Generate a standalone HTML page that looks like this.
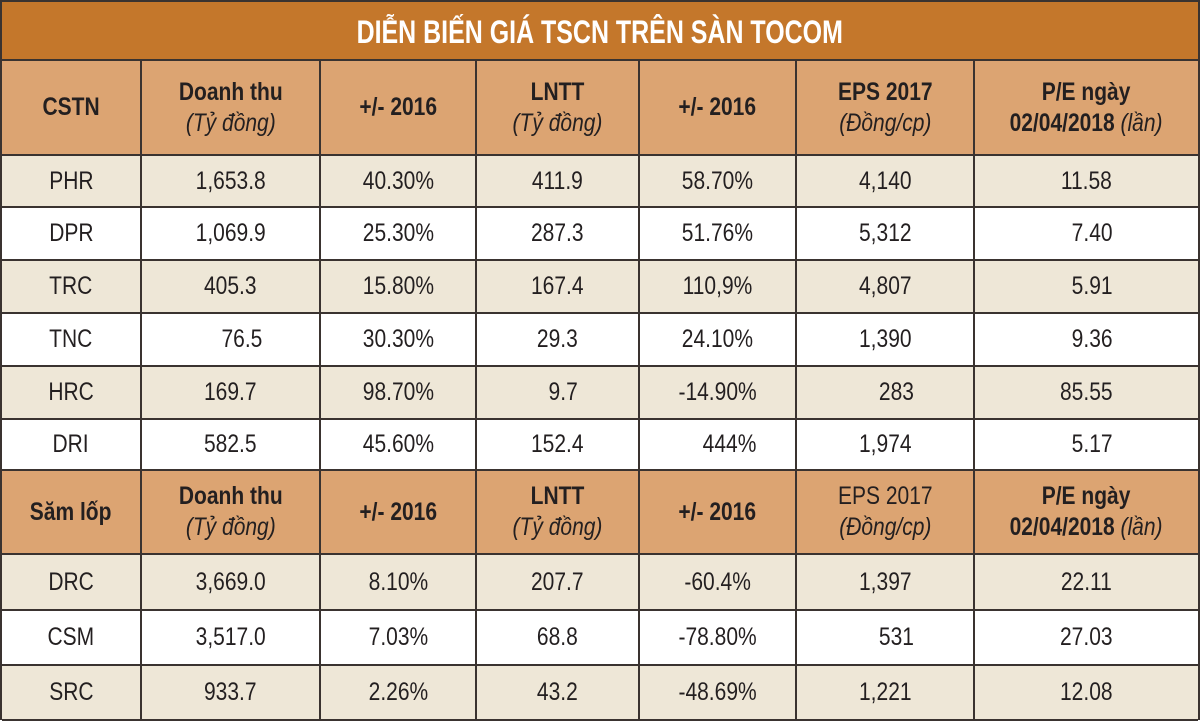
<!DOCTYPE html>
<html><head><meta charset="utf-8">
<style>
html,body{margin:0;padding:0;background:#fff;}
body{width:1200px;height:721px;overflow:hidden;font-family:"Liberation Sans",sans-serif;color:#231f20;}
#wrap{position:absolute;left:0;top:0;width:1196px;height:716px;border:2px solid #3a3330;}
#title{height:57px;background:#c4772b;color:#fff;font-weight:bold;font-size:32px;text-align:center;line-height:60px;border-bottom:2px solid #3a3330;}
#title span{display:inline-block;transform:scaleX(0.78);}
table{border-collapse:collapse;width:1196px;table-layout:fixed;}
td{border:2px solid #3a3330;text-align:center;font-size:25px;padding:0;white-space:nowrap;}
td s{text-decoration:none;display:inline-block;transform:scaleX(0.84);}
tr.h td{background:#dca472;font-weight:bold;font-size:25px;line-height:31px;}
tr.h td i{font-weight:normal;}
tr.l td{background:#eee7d7;}
tr.w td{background:#fff;}
tr:first-child td{border-top:none;}
td:first-child{border-left:none;}
td:last-child{border-right:none;}
</style></head><body>
<div id="wrap">
<div id="title"><span>DIỄN BIẾN GIÁ TSCN TRÊN SÀN TOCOM</span></div>
<table>
<colgroup><col style="width:139px"><col style="width:179px"><col style="width:156px"><col style="width:163px"><col style="width:157px"><col style="width:178px"><col></colgroup>
<tr class="h" style="height:94px"><td><s>CSTN</s></td><td><s>Doanh thu<br><i>(Tỷ đồng)</i></s></td><td><s>+/- 2016</s></td><td><s>LNTT<br><i>(Tỷ đồng)</i></s></td><td><s>+/- 2016</s></td><td><s>EPS 2017<br><i>(Đồng/cp)</i></s></td><td><s>P/E ngày<br>02/04/2018 <i>(lần)</i></s></td></tr>
<tr class="l" style="height:52px"><td><s>PHR</s></td><td><s>1,653.8</s></td><td><s>40.30%</s></td><td><s>411.9</s></td><td><s>58.70%</s></td><td><s>4,140</s></td><td><s>11.58</s></td></tr>
<tr class="w" style="height:53px"><td><s>DPR</s></td><td><s>1,069.9</s></td><td><s>25.30%</s></td><td><s>287.3</s></td><td><s>51.76%</s></td><td><s>5,312</s></td><td><s>&nbsp;&nbsp;7.40</s></td></tr>
<tr class="l" style="height:53px"><td><s>TRC</s></td><td><s>405.3</s></td><td><s>15.80%</s></td><td><s>167.4</s></td><td><s>110,9%</s></td><td><s>4,807</s></td><td><s>&nbsp;&nbsp;5.91</s></td></tr>
<tr class="w" style="height:53px"><td><s>TNC</s></td><td><s>&nbsp;&nbsp;&nbsp;&nbsp;76.5</s></td><td><s>30.30%</s></td><td><s>29.3</s></td><td><s>24.10%</s></td><td><s>1,390</s></td><td><s>&nbsp;&nbsp;9.36</s></td></tr>
<tr class="l" style="height:53px"><td><s>HRC</s></td><td><s>169.7</s></td><td><s>98.70%</s></td><td><s>&nbsp;&nbsp;9.7</s></td><td><s>-14.90%</s></td><td><s>&nbsp;&nbsp;&nbsp;&nbsp;283</s></td><td><s>85.55</s></td></tr>
<tr class="w" style="height:51px"><td><s>DRI</s></td><td><s>582.5</s></td><td><s>45.60%</s></td><td><s>152.4</s></td><td><s>&nbsp;&nbsp;&nbsp;&nbsp;444%</s></td><td><s>1,974</s></td><td><s>&nbsp;&nbsp;5.17</s></td></tr>
<tr class="h" style="height:84px"><td><s>Săm lốp</s></td><td><s>Doanh thu<br><i>(Tỷ đồng)</i></s></td><td><s>+/- 2016</s></td><td><s>LNTT<br><i>(Tỷ đồng)</i></s></td><td><s>+/- 2016</s></td><td style="font-weight:normal"><s>EPS 2017<br><i>(Đồng/cp)</i></s></td><td><s>P/E ngày<br>02/04/2018 <i>(lần)</i></s></td></tr>
<tr class="l" style="height:56px"><td><s>DRC</s></td><td><s>3,669.0</s></td><td><s>8.10%</s></td><td><s>207.7</s></td><td><s>-60.4%</s></td><td><s>1,397</s></td><td><s>22.11</s></td></tr>
<tr class="w" style="height:55px"><td><s>CSM</s></td><td><s>3,517.0</s></td><td><s>7.03%</s></td><td><s>68.8</s></td><td><s>-78.80%</s></td><td><s>&nbsp;&nbsp;&nbsp;&nbsp;531</s></td><td><s>27.03</s></td></tr>
<tr class="l" style="height:55px"><td><s>SRC</s></td><td><s>933.7</s></td><td><s>2.26%</s></td><td><s>43.2</s></td><td><s>-48.69%</s></td><td><s>1,221</s></td><td><s>12.08</s></td></tr>
</table>
</div>
</body></html>
